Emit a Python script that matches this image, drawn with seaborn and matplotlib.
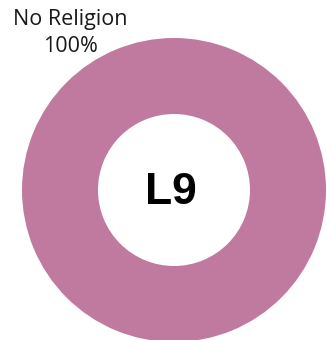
import matplotlib
matplotlib.use("Agg")
import matplotlib.pyplot as plt
import seaborn as sns

categories = ["No Religion"]
shares = [100]
colors = ["#C07A9F"]
center_label = "L9"

sns.set_style("white")
plt.rcParams["font.family"] = ["Open Sans", "DejaVu Sans"]

fig = plt.figure(figsize=(3.27, 3.40), dpi=100)
ax = fig.add_axes([0, 0, 1, 1])

ax.pie(shares, colors=colors, center=(174, 190), radius=152,
       startangle=90, counterclock=False,
       wedgeprops=dict(width=76, edgecolor="none"), frame=True)
ax.set_xlim(0, 327)
ax.set_ylim(340, 0)
ax.set_aspect("equal")
ax.axis("off")

ax.text(70, 33, f"{categories[0]}\n{shares[0]}%", ha="center", va="center",
        fontsize=15.5, linespacing=1.4, color="#1a1a1a")
ax.text(171, 192, center_label, ha="center", va="center",
        fontsize=32, fontweight="bold", family="Liberation Sans", color="black")

fig.savefig("out.png", dpi=100)
